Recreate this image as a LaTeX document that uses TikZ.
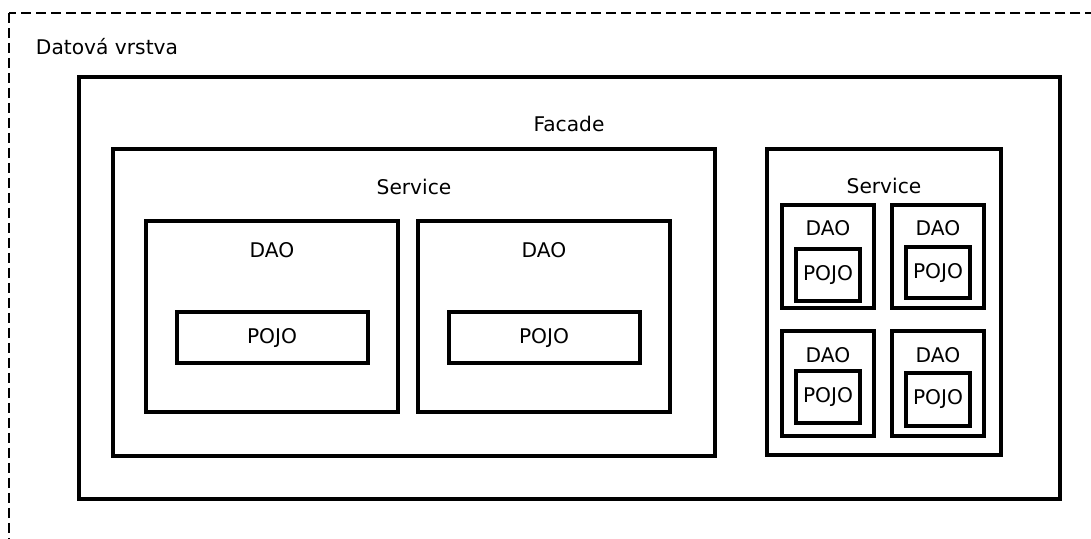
\documentclass[tikz,border=0pt]{standalone}
\usepackage{fontspec}
\setmainfont{DejaVu Sans}

\tikzset{
    box/.style={draw=black, line width=2pt},
    layer/.style={draw=black, line width=0.8pt, dash pattern=on 0.2cm off 0.1cm},
    caption/.style={inner sep=0pt, font=\fontsize{11.5}{13}\selectfont}
}

\begin{document}
\begin{tikzpicture}[x=0.02cm, y=-0.02cm]
    \useasboundingbox (0,0) rectangle (1091,538);
    \clip (0,0) rectangle (1091,538);

    % Data layer
    \draw[layer] (9,13) rectangle (1120,570);
    \node[caption] (datalayer) at (107,47) {Datová vrstva};

    % Facade
    \draw[box] (79,77) rectangle (1060,499);
    \node[caption] (facade) at (569,124) {Facade};

    % Service (left)
    \draw[box] (113,149) rectangle (715,456);
    \node[caption] (serviceL) at (414,187) {Service};

    % DAO 1
    \begin{scope}[shift={(0,0)}]
        \draw[box] (146,221) rectangle (398,412);
        \node[caption] (daoA) at (272,250) {DAO};
        \draw[box] (177,312) rectangle (368,363);
        \node[caption] (pojoA) at (272,338) {POJO};
    \end{scope}

    % DAO 2
    \begin{scope}[shift={(272,0)}]
        \draw[box] (146,221) rectangle (398,412);
        \node[caption] (daoB) at (272,250) {DAO};
        \draw[box] (177,312) rectangle (368,363);
        \node[caption] (pojoB) at (272,338) {POJO};
    \end{scope}

    % Service (right)
    \draw[box] (767,149) rectangle (1001,455);
    \node[caption] (serviceR) at (884,186) {Service};

    % small DAO, top left
    \begin{scope}[shift={(0,0)}]
        \draw[box] (782,205) rectangle (874,308);
        \node[caption] (daoC) at (828,228) {DAO};
        \draw[box] (796,249) rectangle (860,301);
        \node[caption] (pojoC) at (828,275) {POJO};
    \end{scope}

    % small DAO, top right
    \begin{scope}[shift={(110,0)}]
        \draw[box] (782,205) rectangle (874,308);
        \node[caption] (daoD) at (828,228) {DAO};
        \draw[box] (796,247) rectangle (860,298);
        \node[caption] (pojoD) at (828,273) {POJO};
    \end{scope}

    % small DAO, bottom left
    \begin{scope}[shift={(0,126)}]
        \draw[box] (782,205) rectangle (874,310);
        \node[caption] (daoE) at (828,229) {DAO};
        \draw[box] (796,245) rectangle (860,297);
        \node[caption] (pojoE) at (828,271) {POJO};
    \end{scope}

    % small DAO, bottom right
    \begin{scope}[shift={(110,126)}]
        \draw[box] (782,205) rectangle (874,310);
        \node[caption] (daoF) at (828,229) {DAO};
        \draw[box] (796,247) rectangle (860,300);
        \node[caption] (pojoF) at (828,273) {POJO};
    \end{scope}
\end{tikzpicture}
\end{document}
